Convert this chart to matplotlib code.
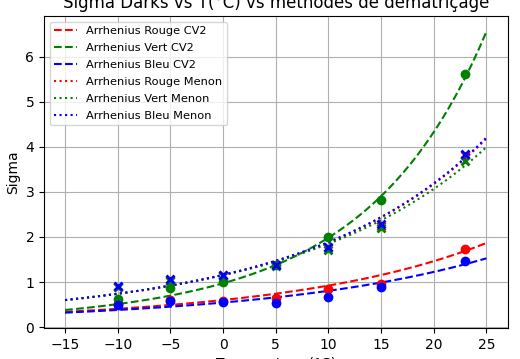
import numpy as np
import matplotlib
matplotlib.use("Agg")
import matplotlib.pyplot as plt

# Measured temperatures (°C)
temps = [-10, -5, 0, 5, 10, 15, 23]

# CV2 demosaicing measurements (circles)
cv2_rouge = [0.52, 0.60, 0.58, 0.64, 0.84, 0.95, 1.74]
cv2_vert = [0.62, 0.86, 1.01, 1.37, 2.00, 2.83, 5.62]
cv2_bleu = [0.50, 0.57, 0.55, 0.54, 0.66, 0.90, 1.47]

# Menon demosaicing measurements (crosses)
menon_rouge = [0.90, 1.05, 1.15, 1.37, 1.75, 2.25, 3.82]
menon_vert = [0.89, 1.03, 1.14, 1.36, 1.71, 2.20, 3.69]
menon_bleu = [0.91, 1.07, 1.16, 1.38, 1.77, 2.28, 3.85]

# Fitted model coefficients: ln(sigma) = a + b*T + c*T^2
fit_cv2_rouge = [-0.510, 0.0410, 0.000175]
fit_cv2_vert = [-0.028, 0.0679, 0.000338]
fit_cv2_bleu = [-0.608, 0.0376, 0.000145]
fit_menon_rouge = [0.145, 0.0467, 0.000190]
fit_menon_vert = [0.140, 0.0458, 0.000160]
fit_menon_bleu = [0.148, 0.0468, 0.000190]

fit_range = [-15, 25]

legend_labels = ["Arrhenius Rouge CV2", "Arrhenius Vert CV2", "Arrhenius Bleu CV2",
                 "Arrhenius Rouge Menon", "Arrhenius Vert Menon", "Arrhenius Bleu Menon"]


def model(coef, t):
    a, b, c = coef
    return np.exp(a + b * t + c * t ** 2)


fig = plt.figure(figsize=(5.2, 3.59), dpi=100)
ax = fig.add_axes([0.0846, 0.0864, 0.8914, 0.8686])

tt = np.linspace(fit_range[0], fit_range[1], 200)

ax.plot(tt, model(fit_cv2_rouge, tt), '--', color='red', label=legend_labels[0])
ax.plot(tt, model(fit_cv2_vert, tt), '--', color='green', label=legend_labels[1])
ax.plot(tt, model(fit_cv2_bleu, tt), '--', color='blue', label=legend_labels[2])
ax.plot(tt, model(fit_menon_rouge, tt), ':', color='red', label=legend_labels[3])
ax.plot(tt, model(fit_menon_vert, tt), ':', color='green', label=legend_labels[4])
ax.plot(tt, model(fit_menon_bleu, tt), ':', color='blue', label=legend_labels[5])

ax.plot(temps, cv2_rouge, 'o', color='red')
ax.plot(temps, cv2_vert, 'o', color='green')
ax.plot(temps, cv2_bleu, 'o', color='blue')
ax.plot(temps, menon_rouge, 'x', color='red', mew=2)
ax.plot(temps, menon_vert, 'x', color='green', mew=2)
ax.plot(temps, menon_bleu, 'x', color='blue', mew=2)

ax.set_xlim(-17, 27)
ax.set_ylim(-0.02, 6.9)
ax.set_title("Sigma Darks vs T(°C) vs méthodes de dématriçage")
ax.set_xlabel("Temperature (°C)")
ax.set_ylabel("Sigma")
ax.grid(True)
ax.legend(loc='upper left', fontsize=8.2, labelspacing=0.6)

fig.savefig("out.png", dpi=100)
